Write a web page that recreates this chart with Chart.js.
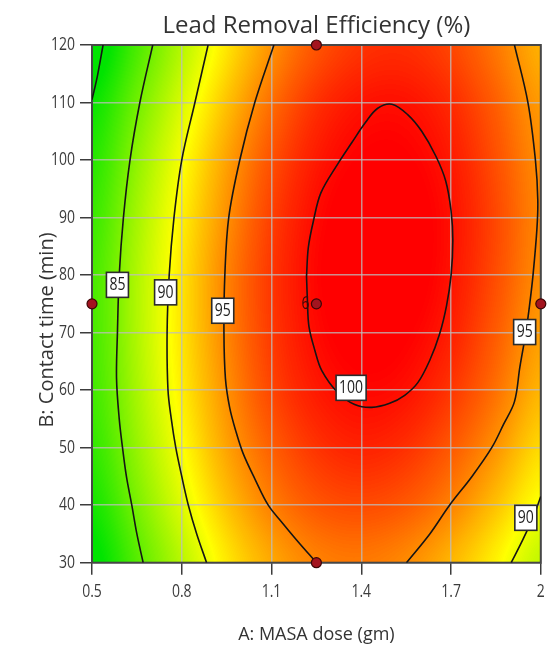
<!DOCTYPE html>
<html>
<head>
<meta charset="utf-8">
<script src="https://cdn.jsdelivr.net/npm/chart.js@4.4.1/dist/chart.umd.min.js"></script>
<style>
  html, body { margin: 0; padding: 0; background: #fff; }
  canvas { display: block; }
</style>
</head>
<body>
<canvas id="contourChart" width="547" height="647"></canvas>
<script>
/* Contour plot of lead removal efficiency vs MASA dose and contact time.
   Background shading comes from a grid of values,
   contour lines are traced points. */

const COLORS = {
  text: "#3a3a3a",
  tick: "#3c3c3c",
  frame: "#474747",
  grid: "rgba(190, 190, 190, 0.75)",
  contour: "#151515",
  point: "#a3141f",
  pointEdge: "#3d0606",
};
const FONT = '"Open Sans", "Noto Sans", sans-serif';

// --- axes ---
const doseTicks = [0.5, 0.8, 1.1, 1.4, 1.7, 2];
const doseTickLabels = ["0.5", "0.8", "1.1", "1.4", "1.7", "2"];
const timeTicks = [30, 40, 50, 60, 70, 80, 90, 100, 110, 120];
const timeTickLabels = ["30", "40", "50", "60", "70", "80", "90", "100", "110", "120"];

// --- shading grid (efficiency %), one row per contact time ---
const gridDose = [0.5, 0.65, 0.8, 0.95, 1.1, 1.25, 1.4, 1.55, 1.7, 1.85, 2.0];
const gridTime = [30, 40, 50, 60, 70, 80, 90, 100, 110, 120];
const efficiencyGrid = [
  [79.0, 83.4, 87.4, 91.1, 93.7, 95.2, 95.6, 94.9, 93.1, 90.6, 87.5],
  [80.5, 84.9, 89.0, 92.8, 95.5, 97.1, 97.6, 97.0, 95.3, 92.8, 89.8],
  [81.7, 86.1, 90.2, 94.0, 96.8, 98.5, 99.2, 98.6, 97.0, 94.6, 91.6],
  [82.4, 86.8, 91.0, 94.8, 97.8, 99.6, 100.3, 99.9, 98.4, 96.0, 93.1],
  [82.7, 87.1, 91.3, 95.2, 98.3, 100.2, 101.0, 100.7, 99.3, 96.9, 94.1],
  [82.6, 87.1, 91.3, 95.3, 98.4, 100.4, 101.3, 101.1, 99.8, 97.5, 94.8],
  [82.1, 86.7, 90.9, 94.8, 98.1, 100.2, 101.2, 101.1, 99.9, 97.7, 95.0],
  [81.2, 85.8, 90.1, 94.1, 97.4, 99.6, 100.7, 100.7, 99.6, 97.4, 94.8],
  [80.0, 84.5, 88.8, 92.8, 96.2, 98.6, 99.8, 99.9, 98.9, 96.8, 94.2],
  [78.2, 82.9, 87.2, 91.2, 94.7, 97.1, 98.4, 98.6, 97.7, 95.7, 93.2],
];

// --- contour lines, [dose, time] ---
const contour80 = [[0.537, 120], [0.518, 114.6], [0.5, 110.5]];
const contour85 = [
  [0.703, 120], [0.66, 110], [0.627, 100], [0.605, 90], [0.591, 80], [0.585, 70],
  [0.582, 62], [0.591, 55], [0.602, 50], [0.615, 45], [0.633, 40], [0.65, 35], [0.671, 30],
];
const contour90Left = [
  [0.888, 120], [0.844, 110], [0.8, 100], [0.774, 90], [0.758, 80], [0.751, 70],
  [0.754, 60], [0.765, 55], [0.78, 50], [0.8, 45], [0.822, 40], [0.85, 35], [0.883, 30],
];
const contour90Right = [[1.901, 30], [1.94, 34], [1.975, 38], [2.0, 41.5]];
const contour95Left = [
  [1.108, 120], [1.044, 110], [0.994, 100], [0.957, 90], [0.944, 80], [0.941, 70],
  [0.946, 62], [0.96, 57], [0.98, 53], [1.005, 49], [1.045, 44.5], [1.089, 40],
  [1.135, 37], [1.183, 34], [1.25, 30],
];
const contour95Right = [
  [1.551, 30], [1.629, 35], [1.695, 40], [1.77, 45], [1.836, 50], [1.875, 54], [1.912, 58],
  [1.93, 64], [1.95, 70], [1.963, 75], [1.974, 80], [1.987, 88], [1.99, 93], [1.982, 100],
  [1.957, 110], [1.912, 120],
];
const contour100 = [
  [1.217, 79.8], [1.22, 75.6], [1.225, 71.1], [1.245, 66.9], [1.268, 63.4], [1.321, 59.6],
  [1.378, 57.5], [1.435, 57.0], [1.495, 57.7], [1.545, 59.1], [1.589, 61.3], [1.629, 65.2],
  [1.662, 69.8], [1.685, 74.7], [1.7, 79.9], [1.706, 86.0], [1.7, 91.2], [1.682, 96.4],
  [1.649, 100.7], [1.602, 105.0], [1.555, 107.9], [1.502, 109.7], [1.455, 109.0],
  [1.415, 106.6], [1.368, 103.0], [1.321, 99.3], [1.265, 94.3], [1.24, 89.4],
  [1.223, 84.8], [1.217, 79.8],
];

// --- contour labels ---
const labelText = ["85", "90", "95", "100", "95", "90"];
const labelDose = [0.585, 0.746, 0.937, 1.366, 1.946, 1.95];
const labelTime = [78.3, 77.0, 73.8, 60.4, 70.1, 37.8];

// --- design points ---
const designDose = [0.5, 1.25, 1.25, 1.25, 2];
const designTime = [75, 120, 75, 30, 75];
const centerRuns = "6";

// green -> yellow -> red over the response range
const HEAT = { low: 80, mid: 90.3, high: 100.5 };
const ENC = { min: 75, span: 30 }; // value <-> 8-bit channel for the smooth raster
function heatColor(v) {
  if (v <= HEAT.mid) {
    const f = Math.max(0, (v - HEAT.low) / (HEAT.mid - HEAT.low));
    return [Math.round(255 * f), Math.round(228 + 27 * f), 0];
  }
  const f = Math.min(1, (v - HEAT.mid) / (HEAT.high - HEAT.mid));
  return [255, Math.round(255 * (1 - f)), 0];
}

function drawText(ctx, text, x, y, o) {
  ctx.save();
  ctx.translate(x, y);
  if (o.rotate) ctx.rotate(o.rotate);
  ctx.scale(o.sx || 1, o.sy || 1);
  ctx.font = o.font;
  ctx.fillStyle = o.color || COLORS.text;
  ctx.textAlign = o.align || "center";
  ctx.textBaseline = o.baseline || "middle";
  ctx.fillText(text, 0, 0);
  ctx.restore();
}

const heatmapPlugin = {
  id: "heatmap",
  beforeDraw(chart) {
    const { ctx, scales: { x, y } } = chart;
    ctx.save();
    ctx.fillStyle = "#fff";
    ctx.fillRect(0, 0, chart.width, chart.height);
    ctx.restore();

    // grid values as grey levels, one texel per grid node
    const nx = gridDose.length;
    const ny = gridTime.length;
    const small = document.createElement("canvas");
    small.width = nx;
    small.height = ny;
    const sctx = small.getContext("2d");
    const img = sctx.createImageData(nx, ny);
    efficiencyGrid.forEach((row, j) => {
      const py = ny - 1 - j;
      row.forEach((val, i) => {
        const g = Math.round(((val - ENC.min) / ENC.span) * 255);
        const k = (py * nx + i) * 4;
        img.data[k] = g;
        img.data[k + 1] = g;
        img.data[k + 2] = g;
        img.data[k + 3] = 255;
      });
    });
    sctx.putImageData(img, 0, 0);

    const x0 = Math.round(x.getPixelForValue(gridDose[0]));
    const x1 = Math.round(x.getPixelForValue(gridDose[nx - 1]));
    const y0 = Math.round(y.getPixelForValue(gridTime[ny - 1]));
    const y1 = Math.round(y.getPixelForValue(gridTime[0]));
    const w = x1 - x0;
    const h = y1 - y0;

    // scale up with smoothing, then colour each pixel
    const big = document.createElement("canvas");
    big.width = w;
    big.height = h;
    const bctx = big.getContext("2d");
    bctx.imageSmoothingEnabled = true;
    bctx.imageSmoothingQuality = "high";
    bctx.drawImage(small, 0.5, 0.5, nx - 1, ny - 1, 0, 0, w, h);
    const px = bctx.getImageData(0, 0, w, h);
    for (let k = 0; k < px.data.length; k += 4) {
      const v = ENC.min + (px.data[k] / 255) * ENC.span;
      const [r, g, b] = heatColor(v);
      px.data[k] = r;
      px.data[k + 1] = g;
      px.data[k + 2] = b;
      px.data[k + 3] = 255;
    }
    ctx.putImageData(px, x0, y0);
  },
};

const framePlugin = {
  id: "frame",
  beforeDatasetsDraw(chart) {
    const { ctx, chartArea: a } = chart;
    ctx.save();
    ctx.strokeStyle = COLORS.frame;
    ctx.lineWidth = 2;
    ctx.strokeRect(a.left, a.top, a.right - a.left, a.bottom - a.top);
    ctx.restore();
  },
};

const textPlugin = {
  id: "texts",
  afterDraw(chart) {
    const { ctx, chartArea: a, scales: { x, y } } = chart;
    const midX = (a.left + a.right) / 2;

    drawText(ctx, "Lead Removal Efficiency (%)", midX, 33, {
      font: `24px ${FONT}`, baseline: "alphabetic", color: "#333",
    });
    drawText(ctx, "A: MASA dose (gm)", midX, 640, {
      font: `18px ${FONT}`, baseline: "alphabetic", color: "#333",
    });
    drawText(ctx, "B: Contact time (min)", 47, 330, {
      font: `20px ${FONT}`, rotate: -Math.PI / 2, color: "#333",
    });

    doseTicks.forEach((v, i) => {
      drawText(ctx, doseTickLabels[i], x.getPixelForValue(v), 592, {
        font: `14px ${FONT}`, sy: 1.3, color: COLORS.tick,
      });
    });
    timeTicks.forEach((v, i) => {
      drawText(ctx, timeTickLabels[i], 75, y.getPixelForValue(v), {
        font: `14px ${FONT}`, sy: 1.3, align: "right", color: COLORS.tick,
      });
    });

    // contour value boxes
    ctx.save();
    ctx.font = `14px ${FONT}`;
    labelText.forEach((t, i) => {
      const cx = x.getPixelForValue(labelDose[i]);
      const cy = y.getPixelForValue(labelTime[i]);
      const w = ctx.measureText(t).width + 6;
      const h = 25;
      ctx.fillStyle = "#fff";
      ctx.fillRect(cx - w / 2, cy - h / 2, w, h);
      ctx.strokeStyle = "#2b2b2b";
      ctx.lineWidth = 1.6;
      ctx.strokeRect(cx - w / 2, cy - h / 2, w, h);
      drawText(ctx, t, cx, cy, { font: `14px ${FONT}`, sy: 1.35, color: "#222" });
    });
    ctx.restore();

    // replicate count at the centre point
    drawText(ctx, centerRuns, x.getPixelForValue(1.25) - 7, y.getPixelForValue(75), {
      font: `14px ${FONT}`, sy: 1.3, align: "right", color: "#3b0808",
    });
  },
};

const contourLine = (pts) => ({
  data: pts.map(([d, t]) => ({ x: d, y: t })),
  showLine: true,
  pointRadius: 0,
  borderColor: COLORS.contour,
  borderWidth: 1.6,
  tension: 0.35,
  fill: false,
  order: 1,
});

const axisGrid = {
  color: COLORS.grid,
  lineWidth: 1.5,
  tickLength: 12,
  tickColor: COLORS.tick,
  tickWidth: 1.5,
};

new Chart(document.getElementById("contourChart"), {
  type: "scatter",
  data: {
    datasets: [
      contourLine(contour80),
      contourLine(contour85),
      contourLine(contour90Left),
      contourLine(contour90Right),
      contourLine(contour95Left),
      contourLine(contour95Right),
      contourLine(contour100),
      {
        data: designDose.map((d, i) => ({ x: d, y: designTime[i] })),
        pointRadius: 5,
        pointBackgroundColor: COLORS.point,
        pointBorderColor: COLORS.pointEdge,
        pointBorderWidth: 1.2,
        showLine: false,
        clip: false,
        order: 0,
      },
    ],
  },
  options: {
    responsive: false,
    animation: false,
    devicePixelRatio: 1,
    events: [],
    layout: { padding: { top: 45, right: 5.3, bottom: 0, left: 0 } },
    plugins: { legend: { display: false }, tooltip: { enabled: false }, title: { display: false } },
    scales: {
      x: {
        type: "linear",
        min: 0.5,
        max: 2,
        border: { display: false },
        grid: axisGrid,
        ticks: { display: false },
        afterBuildTicks: (s) => { s.ticks = doseTicks.map((v) => ({ value: v })); },
        afterFit: (s) => { s.height = 84.3; },
      },
      y: {
        type: "linear",
        min: 30,
        max: 120,
        border: { display: false },
        grid: axisGrid,
        ticks: { display: false },
        afterBuildTicks: (s) => { s.ticks = timeTicks.map((v) => ({ value: v })); },
        afterFit: (s) => { s.width = 92; },
      },
    },
  },
  plugins: [heatmapPlugin, framePlugin, textPlugin],
});
</script>
</body>
</html>
